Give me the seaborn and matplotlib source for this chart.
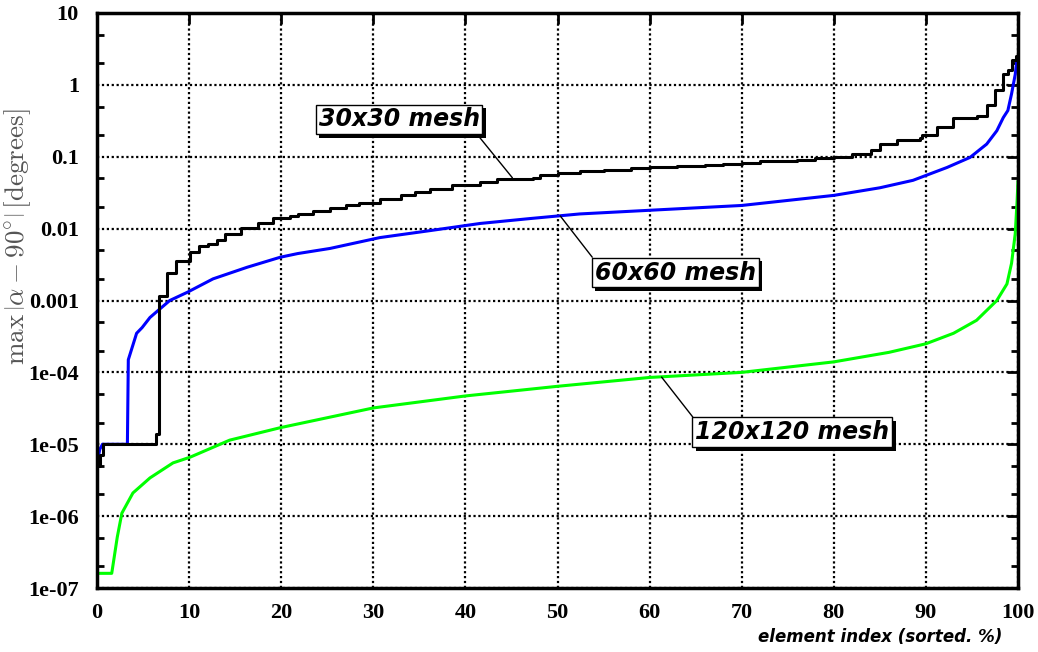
import seaborn as sns
import matplotlib.pyplot as plt
import matplotlib.ticker as mticker
import matplotlib.patheffects as pe

# element index (sorted, %) vs max |alpha - 90deg| for three meshes
x_30 = [0, 0.3, 0.65, 6.4, 6.7, 7.6, 8.6, 10.1, 11.1, 12.1,
        13.0, 13.9, 15.6, 17.5, 19.1, 21.0, 21.8, 23.5, 25.3, 27.0,
        28.5, 30.7, 33.0, 34.5, 36.2, 38.5, 41.6, 43.4, 47.3, 48.1,
        50.0, 52.4, 55.0, 58.0, 60.0, 63.0, 66.0, 68.0, 70.0, 72.0,
        74.0, 76.0, 78.0, 80.0, 82.0, 84.0, 85.0, 86.9, 89.4, 89.6,
        91.2, 92.9, 95.5, 96.6, 97.5, 98.4, 98.9, 99.3, 99.8, 100]
y_30 = [5e-6, 7e-6, 1e-5, 1.4e-5, 1.17e-3, 2.4e-3, 3.5e-3, 4.8e-3, 5.8e-3, 6.2e-3,
        7.0e-3, 8.3e-3, 1.03e-2, 1.2e-2, 1.42e-2, 1.5e-2, 1.6e-2, 1.75e-2, 1.95e-2, 2.1e-2,
        2.3e-2, 2.6e-2, 2.9e-2, 3.2e-2, 3.6e-2, 4.0e-2, 4.4e-2, 4.9e-2, 5.1e-2, 5.6e-2,
        6.0e-2, 6.4e-2, 6.6e-2, 7.0e-2, 7.2e-2, 7.5e-2, 7.8e-2, 8.0e-2, 8.3e-2, 8.6e-2,
        8.8e-2, 9.1e-2, 9.5e-2, 0.10, 0.11, 0.125, 0.15, 0.17, 0.18, 0.20,
        0.26, 0.35, 0.37, 0.53, 0.85, 1.4, 1.6, 2.2, 2.5, 2.5]

x_60 = [0, 0.3, 0.6, 3.3, 3.4, 3.9, 4.3, 4.9, 5.75, 6.6,
        7.9, 9.8, 12.6, 16.3, 19.9, 21.8, 25.3, 30.7, 36.2, 41.6,
        47.0, 52.4, 60.0, 70.0, 80.0, 85.0, 88.6, 92.3, 94.8, 96.6,
        97.7, 98.4, 98.9, 99.3, 99.7, 99.9]
y_60 = [5.3e-6, 8.5e-6, 1e-5, 1e-5, 1.5e-4, 2.4e-4, 3.5e-4, 4.2e-4, 5.8e-4, 7.2e-4,
        1e-3, 1.3e-3, 2.0e-3, 2.9e-3, 4.0e-3, 4.5e-3, 5.3e-3, 7.5e-3, 9.4e-3, 0.0118,
        0.0138, 0.016, 0.018, 0.021, 0.029, 0.037, 0.047, 0.071, 0.098, 0.15,
        0.23, 0.35, 0.44, 0.75, 1.4, 2.3]

x_120 = [0, 1.6, 2.2, 2.7, 3.9, 5.75, 8.25, 10.1, 14.4, 19.9,
         30, 40, 50, 60, 70, 80, 86, 90, 93, 95.5,
         97.7, 98.8, 99.3, 99.7, 99.9, 100]
y_120 = [1.6e-7, 1.6e-7, 5.1e-7, 1.1e-6, 2.1e-6, 3.4e-6, 5.5e-6, 6.6e-6, 1.14e-5, 1.7e-5,
         3.2e-5, 4.7e-5, 6.4e-5, 8.5e-5, 1.0e-4, 1.4e-4, 1.9e-4, 2.5e-4, 3.5e-4, 5.3e-4,
         1e-3, 1.7e-3, 3.3e-3, 8.5e-3, 0.024, 0.046]

y_ticks = [1e-7, 1e-6, 1e-5, 1e-4, 1e-3, 1e-2, 1e-1, 1, 10]
y_ticklabels = ['1e-07', '1e-06', '1e-05', '1e-04', '0.001', '0.01', '0.1', '1', '10']
x_ticks = list(range(0, 101, 10))

# labels: text, point on the curve, box centre, where the leader leaves the box
labels = [
    ('30x30 mesh', (45.1, 0.051), (32.8, 0.33), (0.97, 0.0)),
    ('60x60 mesh', (50.3, 0.015), (62.8, 0.00245), (0.0, 1.0)),
    ('120x120 mesh', (61.3, 8.6e-5), (75.5, 1.47e-5), (0.0, 1.0)),
]

sns.set_style('white')
plt.rcParams['mathtext.fontset'] = 'cm'
plt.rcParams['text.color'] = 'black'
plt.rcParams['xtick.color'] = 'black'
plt.rcParams['ytick.color'] = 'black'

fig, ax = plt.subplots(figsize=(10.38, 6.52), dpi=100)
fig.subplots_adjust(left=97 / 1038, right=1018 / 1038, top=1 - 13 / 652, bottom=1 - 588 / 652)

sns.lineplot(x=x_120, y=y_120, ax=ax, color='#00ff00', lw=2.2, estimator=None, sort=False)
sns.lineplot(x=x_60, y=y_60, ax=ax, color='#0000ff', lw=2.2, estimator=None, sort=False)
sns.lineplot(x=x_30, y=y_30, ax=ax, color='black', lw=2.2, estimator=None, sort=False,
             drawstyle='steps-post')

ax.set_yscale('log')
ax.set_xlim(0, 100)
ax.set_ylim(1e-7, 10)
ax.set_xticks(x_ticks)
ax.set_xticklabels([str(t) for t in x_ticks])
ax.set_yticks(y_ticks)
ax.set_yticklabels(y_ticklabels)
ax.yaxis.set_minor_locator(mticker.LogLocator(base=10, subs=(2.0, 5.0), numticks=20))
ax.yaxis.set_minor_formatter(mticker.NullFormatter())

for lab in ax.get_xticklabels() + ax.get_yticklabels():
    lab.set_fontfamily('Liberation Serif')
    lab.set_fontsize(16)
    lab.set_fontweight('bold')
    lab.set_color('black')

ax.tick_params(which='major', direction='in', length=8, width=2, top=True, right=True)
ax.tick_params(axis='x', pad=11)
ax.tick_params(axis='y', pad=13)
ax.tick_params(which='minor', direction='in', length=5, width=2, top=False, right=True,
               left=True, bottom=False)
ax.grid(which='major', color='black', linestyle=(0, (1, 1.2)), linewidth=1.6)
for sp in ax.spines.values():
    sp.set_linewidth(2.5)
    sp.set_color('black')

ax.set_xlabel('')
ax.set_ylabel(r'$\max\,\left|\alpha-90^{\circ}\right|\,[\mathrm{degrees}]$',
              fontsize=19.5, color='#555555')
ax.yaxis.set_label_coords(-0.069, 0.61)

fig.text(880 / 1038, 1 - 637 / 652, 'element index (sorted. %)', ha='center', va='center',
         fontsize=12, fontweight='bold', fontstyle='italic', family='DejaVu Sans',
         color='black')

for text, pt, box, rel in labels:
    t = ax.annotate(text, xy=pt, xytext=box, ha='center', va='center', color='black',
                    fontsize=17, fontweight='bold', fontstyle='italic',
                    bbox=dict(boxstyle='square,pad=0.12', fc='white', ec='black', lw=1),
                    arrowprops=dict(arrowstyle='-', color='black', lw=1, relpos=rel,
                                    shrinkA=0, shrinkB=0))
    t.get_bbox_patch().set_path_effects([
        pe.SimplePatchShadow(offset=(2.5, -2.5), shadow_rgbFace='black', alpha=1),
        pe.Normal()])

plt.savefig('out.png', dpi=100)
